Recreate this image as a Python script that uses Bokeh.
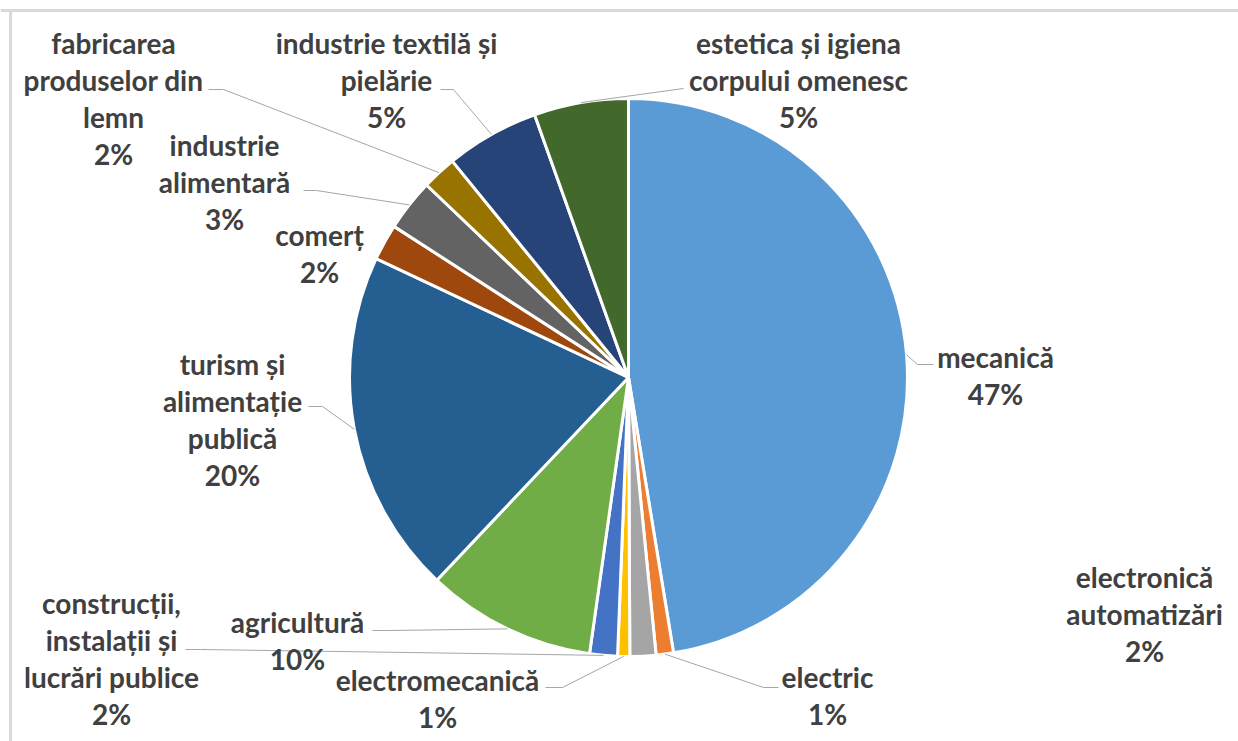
import numpy as np
from bokeh.plotting import figure
from bokeh.models import Range1d, ColumnDataSource
from bokeh.core.properties import value
from bokeh.embed import file_html
from bokeh.resources import INLINE

# ---------------- data ----------------
categories = [
    "mecanică",
    "electric",
    "electronică\nautomatizări",
    "electromecanică",
    "construcții,\ninstalații și\nlucrări publice",
    "agricultură",
    "turism și\nalimentație\npublică",
    "comerț",
    "industrie\nalimentară",
    "fabricarea\nproduselor din\nlemn",
    "industrie textilă și\npielărie",
    "estetica și igiena\ncorpului omenesc",
]
shares = [47.3, 1.0, 1.5, 0.7, 1.6, 9.8, 19.9, 2.1, 3.0, 2.0, 5.4, 5.45]
colors = ["#5B9BD5", "#ED7D31", "#A5A5A5", "#FFC000", "#4472C4", "#70AD47",
          "#255E91", "#9E480E", "#636363", "#997300", "#264478", "#43682B"]

# ---------------- layout (page pixels) ----------------
W, H = 1238, 741
PAGE_H = 741
CX, CY, R = 628, 377, 279
label_x = [995, 827, 1144, 437, 111, 297, 232, 319, 224, 113, 386, 798]
label_y = [367, 687, 587, 690, 613, 632, 374, 245, 155, 53, 53, 53]
TEXT_SHIFT = -11
LINE_STEP = 37
# leader: (anchor near label, elbow) or None
leaders = [
    ((933, 364), (917, 364)),
    ((778, 687), (763, 687)),
    None,
    ((545, 687), (562, 687)),
    ((185, 649), (200, 649)),
    ((372, 630), (390, 630)),
    ((308, 406), (322, 406)),
    None,
    ((303, 190), (316, 190)),
    ((208, 89), (223, 89)),
    ((440, 89), (453, 89)),
    ((683, 88), (683, 88)),
]


def dy(py):
    return PAGE_H - py


vals = np.array(shares, dtype=float)
frac = vals / vals.sum()
pct = [f"{int(round(f * 100))}%" for f in frac]
cum = np.concatenate([[0], np.cumsum(frac)]) * 2 * np.pi  # clockwise from top
theta1, theta2 = cum[:-1], cum[1:]
start = np.pi / 2 - theta2
end = np.pi / 2 - theta1

p = figure(width=W, height=H, x_range=Range1d(0, W), y_range=Range1d(0, H),
           output_backend="svg", toolbar_location=None, min_border=0,
           x_axis_location=None, y_axis_location=None)
p.grid.visible = False
p.outline_line_color = None
p.background_fill_color = "white"
p.border_fill_color = "white"

# chart border (top and left visible)
p.segment(x0=[0, 10], y0=[dy(10), dy(9)], x1=[W, 10], y1=[dy(10), dy(PAGE_H)],
          line_color="#d9d9d9", line_width=3)

src = ColumnDataSource(dict(start=start, end=end, color=colors))
p.wedge(x=CX, y=dy(CY), radius=R, start_angle="start", end_angle="end",
        direction="anticlock", fill_color="color", line_color="white", line_width=3,
        source=src)

# leader lines
xs, ys = [], []
for i, ld in enumerate(leaders):
    if ld is None:
        continue
    mid = (theta1[i] + theta2[i]) / 2
    ex = CX + R * np.sin(mid)
    ey = CY - R * np.cos(mid)
    (ax, ay), (bx, by) = ld
    xs.append([ax, bx, ex])
    ys.append([dy(ay), dy(by), dy(ey)])
p.multi_line(xs, ys, line_color="#a6a6a6", line_width=1)

# labels
tx, ty, tt = [], [], []
for i, cat in enumerate(categories):
    lines = cat.split("\n") + [pct[i]]
    for k, ln in enumerate(lines):
        tx.append(label_x[i])
        ty.append(dy(label_y[i] + TEXT_SHIFT + k * LINE_STEP))
        tt.append(ln)
p.text(x=tx, y=ty, text=tt, text_font=value("Lato"), text_font_style="bold",
       text_font_size="28px", text_color="#404040", text_align="center",
       text_baseline="alphabetic")

open("out.html", "w").write(file_html(p, INLINE))
